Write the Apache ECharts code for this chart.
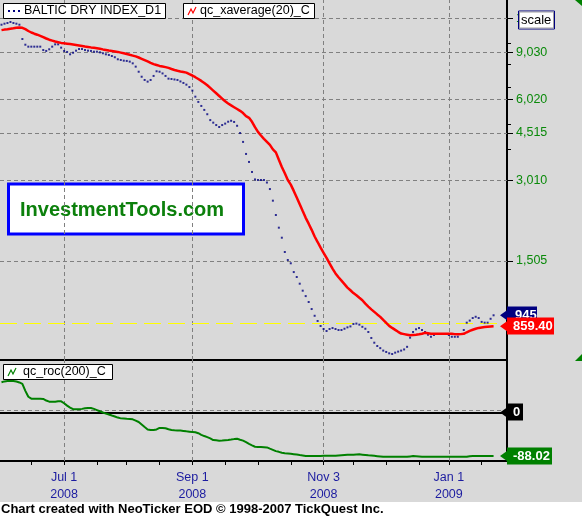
<!DOCTYPE html>
<html><head><meta charset="utf-8">
<script src="https://cdn.jsdelivr.net/npm/echarts@6/dist/echarts.min.js"></script>
<style>html,body{margin:0;padding:0;background:#fff}#c{width:582px;height:516px}</style>
</head><body><div id="c"></div>
<script>
// ---- data ----
const bdi = [11420,11520,11590,11690,11590,11520,11420,10100,9620,9460,
 9460,9460,9460,9460,9190,9120,9250,9460,9650,9650,
 9380,9120,9040,8860,8980,9140,9270,9270,9190,9140,
 9120,9060,9060,9010,8940,8860,8810,8730,8640,8490,
 8440,8390,8370,8320,8200,7970,7630,7310,7110,7010,
 7110,7360,7660,7630,7520,7360,7190,7170,7140,7110,
 7020,6930,6830,6690,6490,6160,5890,5690,5500,5300,
 5040,4930,4830,4750,4830,4890,4970,5010,4960,4800,
 4510,4180,3770,3520,3230,3030,3015,3015,3015,2950,
 2790,2525,2233,2003,1838,1626,1518,1476,1369,1312,
 1239,1167,1114,1059,997,941,900,862,840,826,
 840,847,840,833,833,842,852,859,877,880,
 872,856,842,819,778,747,726,713,698,690,
 682,678,686,692,698,705,721,780,819,838,
 847,833,819,800,786,798,805,805,805,805,
 798,786,786,786,805,833,887,903,923,933,
 923,893,887,887,917,945];
const xavg = [10900,10950,10990,11035,11073,11121,11159,11121,10990,10820,
 10681,10573,10482,10383,10268,10146,10042,9965,9888,9829,
 9770,9736,9703,9670,9637,9604,9563,9522,9481,9441,
 9401,9368,9328,9288,9241,9201,9161,9122,9083,9044,
 8990,8936,8883,8822,8762,8702,8620,8525,8430,8336,
 8237,8146,8083,8021,7980,7939,7884,7810,7744,7691,
 7645,7612,7573,7476,7387,7280,7169,7053,6928,6797,
 6642,6490,6342,6197,6055,5922,5811,5716,5629,5543,
 5457,5355,5216,5140,4967,4742,4554,4416,4289,4180,
 4074,3920,3821,3588,3371,3196,3015,2898,2746,2593,
 2448,2309,2180,2073,1966,1857,1771,1687,1615,1545,
 1476,1410,1353,1309,1272,1235,1198,1171,1143,1122,
 1098,1075,1044,1018,994,973,952,932,908,885,
 863,848,834,820,808,804,800,796,798,800,
 803,807,813,810,807,807,807,807,807,807,
 807,806,804,803,804,806,817,827,835,842,
 848,851,854,856,858,859.40];
const roc = [61.1,62.8,63.6,64.2,63.8,62.6,60.7,57.9,43.7,31.8,
 27.9,27.7,27.5,27.5,27.3,24.1,21.9,21.9,21.9,22.9,
 22.5,18.6,13.8,9.9,6.7,6.5,6.5,7.3,8.5,9.1,
 9.1,7.3,4.9,2.4,0.0,-2.2,-4.0,-6.1,-8.1,-10.3,
 -11.9,-12.3,-12.8,-13.2,-13.8,-16.4,-19.2,-24.3,-29.4,-34.2,
 -35.4,-35.4,-34.2,-31.2,-31.2,-31.8,-33.8,-35.2,-35.8,-36.2,
 -36.6,-37.2,-38.1,-38.7,-39.3,-39.9,-41.9,-45.1,-47.6,-49.8,
 -52.2,-55.7,-56.3,-56.9,-56.7,-56.1,-55.5,-54.7,-53.8,-53.2,
 -55.1,-56.9,-59.9,-63.4,-66.4,-69.2,-69.6,-69.8,-70.2,-70.6,
 -73.1,-75.5,-78.1,-79.5,-81.4,-82.2,-82.8,-83.4,-84.2,-85.0,
 -86.0,-86.8,-87.8,-88.0,-88.0,-87.8,-87.8,-87.8,-87.6,-87.6,
 -87.4,-87.4,-87.2,-86.8,-86.4,-86.0,-85.6,-85.4,-85.2,-84.8,
 -84.6,-85.2,-85.8,-86.6,-87.0,-87.6,-88.2,-88.8,-89.5,-89.5,
 -89.5,-89.5,-89.5,-89.5,-89.5,-89.5,-89.5,-88.7,-88.1,-88.5,
 -88.9,-89.3,-89.5,-89.5,-89.5,-89.5,-89.5,-89.5,-89.5,-89.5,
 -89.5,-89.5,-89.5,-89.5,-89.5,-89.5,-89.5,-88.2,-88.1,-88.1,
 -88.1,-88.1,-88.1,-88.1,-88.1,-88.02];
const categoryCount = 170;            // trading-day slots on the time axis
const majorTickIdx = [21, 64, 108, 150];
const majorTickLabels = ['Jul 1\n2008', 'Sep 1\n2008', 'Nov 3\n2008', 'Jan 1\n2009'];
const minorTickIdx = [10,21,32,42,53,64,75,86,97,108,118,129,140,150,161];
const priceLabels = [1505, 3010, 4515, 6020, 9030, 12040];
const priceMinorTicks = [3920, 4880, 6660, 8170, 9730];
const yellowLevel = 883;
const rocGridLevel = 5;

const categories = Array.from({length: categoryCount}, (_, i) => String(i));
const FONT = '"Liberation Sans", Arial, sans-serif';
const fmtComma = v => String(Math.round(v)).replace(/\B(?=(\d{3})+(?!\d))/g, ',');
const dash = {color: '#808080', type: [4, 3], width: 1};

const chart = echarts.init(document.getElementById('c'), null, {renderer: 'canvas'});
const option = {
  animation: false,
  backgroundColor: '#d9d9d9',
  grid: [
    {left: 0, top: 0, width: 507, height: 360},
    {left: 0, top: 361, width: 507, height: 100}
  ],
  xAxis: [
    {gridIndex: 0, type: 'category', data: categories, boundaryGap: true,
     axisLine: {show: true, onZero: false, lineStyle: {color: '#000', width: 2}},
     axisTick: {show: false}, axisLabel: {show: false}, splitLine: {show: false}},
    {gridIndex: 1, type: 'category', data: categories, boundaryGap: true,
     axisLine: {show: true, onZero: false, lineStyle: {color: '#000', width: 2}},
     axisTick: {show: true, alignWithLabel: true, length: 4,
       interval: (i) => minorTickIdx.includes(i), lineStyle: {color: '#000', width: 1}},
     axisLabel: {show: true, interval: (i) => majorTickIdx.includes(i),
       formatter: (v, i) => majorTickLabels[majorTickIdx.indexOf(i)] || '',
       color: '#1c1ca0', fontSize: 12.5, fontFamily: FONT, lineHeight: 17, margin: 8},
     splitLine: {show: false}},
    {gridIndex: 1, type: 'category', data: categories, boundaryGap: true,
     axisLine: {show: false, onZero: false},
     axisTick: {show: true, alignWithLabel: true, length: 9,
       interval: (i) => majorTickIdx.includes(i), lineStyle: dash},
     axisLabel: {show: false}, splitLine: {show: false}}
  ],
  yAxis: [
    {gridIndex: 0, type: 'log', logBase: 10, min: 644, max: 14115, position: 'right',
     axisLine: {show: true, lineStyle: {color: '#000', width: 2}},
     axisTick: {show: true, customValues: priceLabels, length: 6, lineStyle: {color: '#000'}},
     axisLabel: {show: true, customValues: priceLabels, formatter: fmtComma,
       color: '#0a8a0a', fontSize: 12.5, fontFamily: FONT, margin: 9},
     splitLine: {show: false}},
    {gridIndex: 0, type: 'log', logBase: 10, min: 644, max: 14115, position: 'right',
     axisLine: {show: false},
     axisTick: {show: true, customValues: priceMinorTicks, length: 4, lineStyle: {color: '#000'}},
     axisLabel: {show: false}, splitLine: {show: false}},
    {gridIndex: 1, type: 'value', min: -98, max: 104, position: 'right',
     axisLine: {show: true, onZero: false, lineStyle: {color: '#000', width: 2}},
     axisTick: {show: false}, axisLabel: {show: false}, splitLine: {show: false}}
  ],
  series: [
    {name: 'BALTIC DRY INDEX_D1', type: 'scatter', xAxisIndex: 0, yAxisIndex: 0,
     data: bdi, symbol: 'rect', symbolSize: 2, itemStyle: {color: '#000080'}, z: 3,
     silent: true,
     markLine: {silent: true, symbol: 'none', label: {show: false}, z: 1,
       lineStyle: dash,
       data: priceLabels.map(v => ({yAxis: v}))
         .concat(majorTickIdx.map(i => ({xAxis: i})))
         .concat([{yAxis: yellowLevel, lineStyle: {color: '#ffff00', type: [17, 7], width: 1}}])}},
    {name: 'qc_xaverage(20)_C', type: 'line', xAxisIndex: 0, yAxisIndex: 0,
     data: xavg, showSymbol: false, lineStyle: {color: '#ff0000', width: 2.5}, z: 4, silent: true},
    {name: 'qc_roc(200)_C', type: 'line', xAxisIndex: 1, yAxisIndex: 2,
     data: roc, showSymbol: false, lineStyle: {color: '#008000', width: 2}, z: 4, silent: true,
     markLine: {silent: true, symbol: 'none', label: {show: false}, z: 1,
       lineStyle: dash,
       data: majorTickIdx.map(i => ({xAxis: i}))
         .concat([{yAxis: rocGridLevel}, {yAxis: 0, lineStyle: {color: '#000', type: 'solid', width: 2}}])}}
  ]
};
chart.setOption(option);

function txt(x, y, text, font, fill, extra) {
  return Object.assign({type: 'text', z: 100, style: {text, x, y, font, fill,
    textVerticalAlign: 'middle', verticalAlign: 'middle'}}, extra || {});
}
function tag(y, text, bg, w, tx) {
  return [
    {type: 'polygon', z: 100, shape: {points: [[500, y], [507, y - 5], [507, y + 5]]}, style: {fill: bg}},
    {type: 'rect', z: 100, shape: {x: 507, y: Math.round(y) - 8.5, width: w, height: 17}, style: {fill: bg}},
    txt(tx, Math.round(y), text, 'bold 13px ' + FONT, '#fff')
  ];
}
const yB = chart.convertToPixel({yAxisIndex: 0}, bdi[bdi.length - 1]);
const yA = chart.convertToPixel({yAxisIndex: 0}, xavg[xavg.length - 1]);
const yZ = chart.convertToPixel({yAxisIndex: 2}, 0);
const yR = chart.convertToPixel({yAxisIndex: 2}, roc[roc.length - 1]);

const g = [
  // footer strip
  {type: 'rect', z: 90, shape: {x: 0, y: 502, width: 582, height: 14}, style: {fill: '#fff'}},
  txt(1, 509, 'Chart created with NeoTicker EOD \u00a9 1998-2007 TickQuest Inc.', 'bold 13px ' + FONT, '#000'),
  // watermark box (below the grid lines)
  {type: 'rect', z: 0, zlevel: 0, shape: {x: 8.5, y: 184, width: 235, height: 50},
   style: {fill: '#fff', stroke: '#0000ff', lineWidth: 3}},
  txt(20, 210, 'InvestmentTools.com', 'bold 20px ' + FONT, '#0c800c', {z: 0}),
  // legend boxes
  {type: 'rect', z: 100, shape: {x: 3.5, y: 3.5, width: 162, height: 15}, style: {fill: '#fff', stroke: '#000', lineWidth: 1}},
  {type: 'rect', z: 100, shape: {x: 8, y: 10, width: 2, height: 2}, style: {fill: '#000080'}},
  {type: 'rect', z: 100, shape: {x: 13, y: 10, width: 2, height: 2}, style: {fill: '#000080'}},
  {type: 'rect', z: 100, shape: {x: 18, y: 10, width: 2, height: 2}, style: {fill: '#000080'}},
  txt(24, 11, 'BALTIC DRY INDEX_D1', '12.5px ' + FONT, '#000'),
  {type: 'rect', z: 100, shape: {x: 183.5, y: 3.5, width: 131, height: 15}, style: {fill: '#fff', stroke: '#000', lineWidth: 1}},
  {type: 'polyline', z: 100, shape: {points: [[188, 15], [191, 9], [193, 13], [196, 7]]}, style: {stroke: '#ff0000', lineWidth: 1.2, fill: null}},
  txt(200, 11, 'qc_xaverage(20)_C', '12.5px ' + FONT, '#000'),
  {type: 'rect', z: 100, shape: {x: 3.5, y: 364.5, width: 109, height: 15}, style: {fill: '#fff', stroke: '#000', lineWidth: 1}},
  {type: 'polyline', z: 100, shape: {points: [[8, 376], [11, 370], [13, 374], [16, 368]]}, style: {stroke: '#008000', lineWidth: 1.2, fill: null}},
  txt(23, 372, 'qc_roc(200)_C', '12.5px ' + FONT, '#000'),
  // scale button
  {type: 'rect', z: 100, shape: {x: 518.5, y: 11, width: 36, height: 18}, style: {fill: '#fff', stroke: '#000080', lineWidth: 1}},
  {type: 'rect', z: 100, shape: {x: 519.5, y: 12, width: 34, height: 16}, style: {fill: 'none', stroke: '#a0a0a0', lineWidth: 1}},
  txt(521, 20.5, 'scale', '13px ' + FONT, '#000'),
  // panel handles
  {type: 'polygon', z: 100, shape: {points: [[575, 0], [582, 0], [582, 6]]}, style: {fill: '#008000'}},
  {type: 'polygon', z: 100, shape: {points: [[575, 361], [582, 354], [582, 361]]}, style: {fill: '#008000'}}
]
  .concat(tag(yB, String(bdi[bdi.length - 1]), '#000080', 30, 515))
  .concat(tag(yA, xavg[xavg.length - 1].toFixed(2), '#ff0000', 47, 513))
  .concat(tag(yZ, '0', '#000000', 16, 513))
  .concat(tag(yR, roc[roc.length - 1].toFixed(2), '#008000', 45, 513));
chart.setOption({graphic: g});
</script></body></html>
